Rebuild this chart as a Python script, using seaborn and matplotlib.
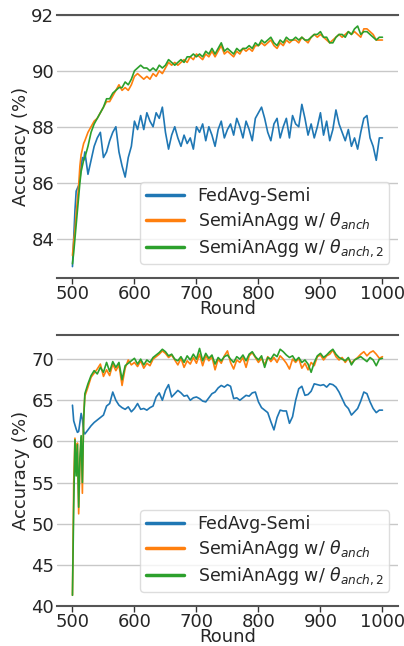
import numpy as np
import pandas as pd
import seaborn as sns
import matplotlib
matplotlib.use("Agg")
import matplotlib.pyplot as plt

# rounds: every 2 rounds early on, every 5 afterwards
rounds_early = [500, 502, 504, 506, 508, 510, 512, 514, 516, 518, 520]
rounds_late = list(range(525, 1001, 5))
rounds = rounds_early + rounds_late

labels = ["FedAvg-Semi", r"SemiAnAgg w/ $\theta_{anch}$", r"SemiAnAgg w/ $\theta_{anch,2}$"]

# ---- top panel ----
top_fedavg = [83.0, 84.0, 85.0, 85.7, 85.8, 85.9, 86.1, 86.6, 86.9, 86.8, 87.1,
              86.3, 86.8, 87.3, 87.6, 87.8, 86.9, 87.1, 87.5, 87.8, 88.0,
              87.1, 86.6, 86.2, 86.9, 87.3, 88.2, 87.9, 88.4, 87.9, 88.5,
              88.2, 88.0, 88.5, 88.3, 88.7, 87.8, 87.2, 87.7, 88.0, 87.6,
              87.3, 87.7, 87.4, 87.6, 87.2, 88.0, 87.8, 88.1, 87.5, 88.0,
              87.7, 87.3, 87.9, 88.2, 87.6, 87.9, 88.1, 87.7, 88.3, 88.0,
              87.6, 88.2, 87.9, 87.5, 88.3, 88.5, 88.7, 88.3, 87.8, 87.5,
              88.1, 88.3, 87.6, 88.0, 88.3, 87.6, 88.4, 88.1, 88.0, 88.8,
              88.3, 87.7, 88.1, 87.6, 88.0, 88.5, 87.7, 88.2, 87.5, 87.9,
              88.6, 88.1, 87.8, 87.5, 87.9, 87.3, 87.6, 87.2, 87.8, 88.3,
              88.4, 87.6, 87.3, 86.8, 87.6, 87.6]
top_anch = [83.4, 83.9, 84.3, 84.9, 85.4, 85.9, 86.6, 87.0, 87.2, 87.4, 87.5,
            87.8, 88.0, 88.2, 88.3, 88.5, 88.7, 88.9, 88.9, 89.1, 89.3,
            89.5, 89.3, 89.4, 89.3, 89.5, 89.8, 89.9, 89.8, 89.7, 89.8,
            89.7, 89.9, 89.8, 90.0, 89.9, 90.1, 90.3, 90.2, 90.3, 90.2,
            90.3, 90.4, 90.3, 90.5, 90.4, 90.6, 90.5, 90.4, 90.6, 90.5,
            90.7, 90.5, 90.7, 90.9, 90.6, 90.7, 90.6, 90.5, 90.7, 90.6,
            90.8, 90.7, 90.8, 90.7, 90.9, 90.9, 91.0, 90.9, 91.0, 91.1,
            90.9, 90.8, 91.0, 90.9, 91.1, 91.0, 91.1, 91.1, 91.0, 91.2,
            91.1, 91.0, 91.2, 91.3, 91.2, 91.3, 91.2, 91.1, 91.0, 91.1,
            91.2, 91.3, 91.2, 91.3, 91.4, 91.3, 91.4, 91.3, 91.2, 91.5,
            91.5, 91.4, 91.3, 91.1, 91.1, 91.1]
top_anch2 = [83.1, 83.5, 84.0, 84.5, 85.0, 85.5, 86.0, 86.4, 86.6, 86.8, 86.9,
             87.3, 87.8, 88.1, 88.3, 88.5, 88.7, 89.0, 89.0, 89.2, 89.3,
             89.4, 89.4, 89.6, 89.5, 89.7, 90.0, 90.1, 90.2, 90.1, 90.1,
             90.0, 90.1, 90.0, 90.2, 90.1, 90.2, 90.4, 90.3, 90.2, 90.3,
             90.4, 90.3, 90.5, 90.5, 90.6, 90.5, 90.6, 90.5, 90.7, 90.6,
             90.8, 90.6, 90.8, 91.0, 90.7, 90.8, 90.7, 90.6, 90.8, 90.7,
             90.8, 90.8, 90.9, 90.8, 91.0, 90.9, 91.1, 91.0, 91.1, 91.2,
             91.0, 90.9, 91.1, 91.0, 91.2, 91.1, 91.1, 91.2, 91.1, 91.2,
             91.1, 91.1, 91.2, 91.3, 91.3, 91.4, 91.2, 91.2, 91.0, 91.0,
             91.2, 91.3, 91.3, 91.2, 91.4, 91.3, 91.5, 91.6, 91.3, 91.4,
             91.4, 91.3, 91.2, 91.1, 91.2, 91.2]

# ---- bottom panel ----
bot_fedavg = [64.4, 62.5, 62.0, 61.5, 61.1, 61.2, 62.3, 63.4, 62.7, 61.2, 60.9,
              61.4, 61.9, 62.3, 62.6, 62.9, 63.2, 64.3, 64.6, 66.0, 65.0,
              64.4, 64.1, 63.9, 64.2, 63.6, 64.0, 64.6, 63.9, 64.0, 63.8,
              64.1, 64.3, 65.4, 65.9, 65.0, 66.2, 66.9, 65.4, 65.8, 66.2,
              65.9, 65.5, 65.6, 65.0, 65.3, 65.4, 65.2, 64.9, 64.8, 65.3,
              65.8, 66.0, 66.5, 66.8, 66.6, 66.9, 66.7, 65.2, 65.3, 65.0,
              65.3, 65.6, 65.5, 65.9, 66.0, 64.8, 64.1, 63.8, 63.5, 62.4,
              61.4, 62.9, 63.8, 63.7, 63.7, 62.2, 63.0, 65.0, 66.4, 66.7,
              65.6, 65.7, 66.1, 67.0, 66.9, 66.8, 66.9, 66.6, 67.0, 66.9,
              66.6, 66.0, 65.2, 64.4, 64.0, 63.2, 63.6, 64.0, 64.9, 66.0,
              65.8, 64.8, 64.0, 63.5, 63.8, 63.8]
bot_anch = [41.3, 55.0, 60.4, 57.0, 59.8, 51.2, 57.5, 60.5, 53.7, 63.0, 65.5,
            66.6, 67.8, 68.3, 68.8, 69.4, 67.9, 68.7, 68.0, 69.4, 68.6,
            69.3, 66.8, 68.9, 69.9, 69.3, 69.6, 69.1, 69.8, 68.9, 69.5,
            69.2, 70.0, 70.3, 70.6, 71.0, 70.7, 70.2, 70.5, 69.9, 69.3,
            70.1, 69.0, 69.8, 69.4, 70.2, 69.5, 70.6, 69.2, 70.4, 69.8,
            70.3, 68.7, 70.0, 69.5, 70.4, 71.0, 69.6, 68.8, 69.9, 69.6,
            70.2, 69.0, 70.4, 70.8, 70.2, 69.6, 70.1, 69.3, 70.3, 69.7,
            70.2, 69.6, 70.4, 70.0, 69.5, 68.8, 70.0, 69.6, 70.1, 68.9,
            69.5, 68.7, 69.6, 69.2, 70.3, 70.5, 69.9, 70.4, 70.6, 71.1,
            70.3, 69.9, 70.2, 69.6, 70.1, 69.5, 69.9, 70.2, 70.6, 70.9,
            70.4, 70.8, 71.0, 70.6, 70.1, 70.3]
bot_anch2 = [41.3, 52.0, 60.2, 55.8, 59.6, 52.0, 58.0, 60.7, 55.0, 62.5, 65.8,
             67.0, 68.0, 68.6, 68.2, 69.0, 68.4, 69.6, 68.5, 69.7, 69.0,
             69.6, 67.5, 69.2, 69.5, 69.8, 70.1, 69.4, 70.0, 69.3, 69.9,
             69.6, 70.2, 70.5, 70.8, 71.2, 70.9, 70.4, 70.6, 70.0, 69.8,
             70.3, 69.6, 70.4, 69.9, 70.6, 70.0, 71.3, 69.8, 70.7, 70.1,
             70.5, 69.4, 70.2, 69.8, 70.3, 70.5, 70.0, 69.6, 70.3, 70.0,
             70.5, 69.8, 70.6, 70.9, 70.3, 69.9, 70.4, 69.0, 70.2, 70.0,
             70.6, 70.3, 71.2, 70.9, 70.5, 70.2, 70.4, 69.8, 70.2, 69.6,
             69.9, 69.4, 68.4, 69.6, 70.4, 70.7, 70.2, 70.5, 70.9, 71.2,
             70.6, 70.2, 70.0, 69.8, 70.2, 69.3, 69.9, 70.1, 70.3, 70.0,
             69.7, 70.2, 69.9, 69.2, 70.0, 70.1]


def make_df(a, b, c):
    df = pd.DataFrame({"Round": rounds, labels[0]: a, labels[1]: b, labels[2]: c})
    return df.melt(id_vars="Round", var_name="Method", value_name="Accuracy")


sns.set_theme(style="whitegrid")
plt.rcParams["font.family"] = ["DejaVu Sans"]

fig = plt.figure(figsize=(4.04, 6.46), dpi=100)
ax1 = fig.add_axes([0.141, 0.570, 0.844, 0.407])
ax2 = fig.add_axes([0.141, 0.062, 0.844, 0.419])

palette = ["#1f77b4", "#ff7f0e", "#2ca02c"]

panels = [(ax1, make_df(top_fedavg, top_anch, top_anch2), (82.6, 92.0), [84, 86, 88, 90, 92]),
          (ax2, make_df(bot_fedavg, bot_anch, bot_anch2), (40.0, 72.9), [40, 45, 50, 55, 60, 65, 70])]

for ax, df, ylim, yticks in panels:
    sns.lineplot(data=df, x="Round", y="Accuracy", hue="Method", palette=palette,
                 linewidth=1.2, ax=ax)
    ax.set_xlim(475, 1025)
    ax.set_ylim(*ylim)
    ax.set_yticks(yticks)
    ax.set_xticks([500, 600, 700, 800, 900, 1000])
    ax.set_xlabel("Round", fontsize=13, labelpad=-2)
    ax.set_ylabel("Accuracy (%)", fontsize=13, labelpad=1)
    ax.tick_params(axis="both", labelsize=13)
    ax.tick_params(axis="x", bottom=True, length=4, width=1, color="#333333", pad=1)
    ax.tick_params(axis="y", left=False, length=0, pad=2)
    ax.grid(axis="x", visible=False)
    ax.grid(axis="y", color="#c8c8c8", linewidth=1.0)
    for side in ["left", "right"]:
        ax.spines[side].set_visible(False)
    for side in ["top", "bottom"]:
        ax.spines[side].set_visible(True)
        ax.spines[side].set_color("#555555")
        ax.spines[side].set_linewidth(1.5)
    leg = ax.legend(loc="lower right", fontsize=12.5, frameon=True, fancybox=True,
                    handlelength=2.2, borderpad=0.3, labelspacing=0.28,
                    bbox_to_anchor=(1.0, 0.02))
    leg.get_frame().set_edgecolor("#d5d5d5")
    for h in leg.get_lines():
        h.set_linewidth(2.5)

fig.savefig("out.png", dpi=100)
